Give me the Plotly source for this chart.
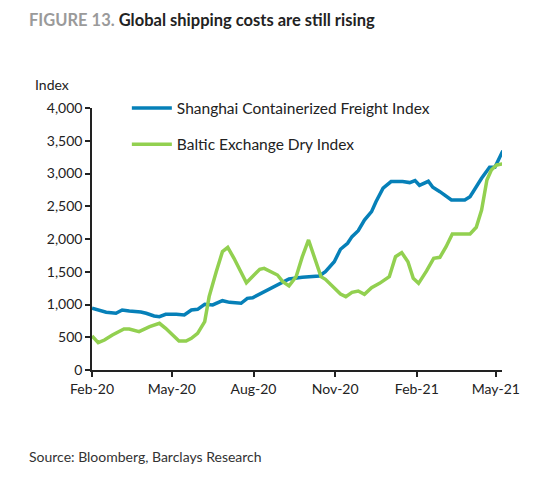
import plotly.graph_objects as go

# Shanghai Containerized Freight Index
scfi_dates = ["2020-02-01", "2020-02-17", "2020-02-28", "2020-03-06", "2020-03-14", "2020-03-27",
              "2020-04-02", "2020-04-11", "2020-04-17", "2020-04-24", "2020-05-06", "2020-05-15",
              "2020-05-23", "2020-05-30", "2020-06-07", "2020-06-16", "2020-06-27", "2020-07-05",
              "2020-07-18", "2020-07-25", "2020-07-31", "2020-08-08", "2020-08-13", "2020-08-23",
              "2020-09-01", "2020-09-10", "2020-09-25", "2020-10-14", "2020-10-21", "2020-10-31",
              "2020-11-07", "2020-11-15", "2020-11-20", "2020-11-27", "2020-12-04", "2020-12-12",
              "2020-12-17", "2020-12-25", "2021-01-03", "2021-01-16", "2021-01-24", "2021-01-30",
              "2021-02-04", "2021-02-14", "2021-02-19", "2021-02-27", "2021-03-12", "2021-03-27",
              "2021-04-02", "2021-04-09", "2021-04-15", "2021-04-24", "2021-04-30", "2021-05-09"]
scfi_values = [942, 881, 866, 916, 900, 886,
               866, 825, 814, 850, 850, 840,
               916, 926, 1003, 993, 1058, 1033,
               1018, 1094, 1104, 1160, 1180, 1257,
               1323, 1389, 1415, 1435, 1501, 1654,
               1843, 1935, 2036, 2127, 2290, 2418,
               2570, 2775, 2876, 2876, 2861, 2891,
               2820, 2881, 2790, 2723, 2596, 2596,
               2647, 2810, 2927, 3095, 3095, 3349]

# Baltic Exchange Dry Index
bdi_dates = ["2020-02-01", "2020-02-08", "2020-02-15", "2020-02-24", "2020-03-08", "2020-03-14",
             "2020-03-25", "2020-04-06", "2020-04-17", "2020-04-24", "2020-05-09", "2020-05-17",
             "2020-05-23", "2020-05-30", "2020-06-07", "2020-06-12", "2020-06-20", "2020-06-27",
             "2020-07-03", "2020-07-10", "2020-07-24", "2020-07-31", "2020-08-08", "2020-08-13",
             "2020-08-21", "2020-08-28", "2020-09-03", "2020-09-10", "2020-09-18", "2020-09-25",
             "2020-10-02", "2020-10-09", "2020-10-16", "2020-10-21", "2020-10-31", "2020-11-07",
             "2020-11-13", "2020-11-20", "2020-11-27", "2020-12-04", "2020-12-12", "2020-12-21",
             "2021-01-01", "2021-01-08", "2021-01-15", "2021-01-22", "2021-01-28", "2021-02-03",
             "2021-02-12", "2021-02-20", "2021-02-27", "2021-03-06", "2021-03-13", "2021-04-02",
             "2021-04-09", "2021-04-15", "2021-04-21", "2021-04-26", "2021-05-02", "2021-05-09"]
bdi_values = [519, 417, 458, 534, 626, 626,
              585, 662, 713, 636, 443, 443,
              484, 560, 738, 1120, 1501, 1807,
              1873, 1705, 1333, 1435, 1537, 1552,
              1501, 1450, 1349, 1283, 1425, 1730,
              1985, 1705, 1425, 1384, 1247, 1160,
              1120, 1186, 1206, 1155, 1257, 1323,
              1425, 1730, 1792, 1654, 1400, 1323,
              1512, 1705, 1720, 1883, 2077, 2077,
              2179, 2443, 2902, 3054, 3130, 3146]

x_tick_vals = ["2020-02-01", "2020-05-01", "2020-08-01", "2020-11-01", "2021-02-01", "2021-05-01"]
x_tick_text = ["Feb-20", "May-20", "Aug-20", "Nov-20", "Feb-21", "May-21"]
y_tick_vals = [0, 500, 1000, 1500, 2000, 2500, 3000, 3500, 4000]

FONT = "Source Sans Pro, Lato, Noto Sans, sans-serif"

fig = go.Figure()
fig.add_trace(go.Scatter(x=scfi_dates, y=scfi_values, mode="lines",
                         name="Shanghai Containerized Freight Index",
                         legendgroup="a",
                         line=dict(color="#0680b8", width=3.5)))
fig.add_trace(go.Scatter(x=bdi_dates, y=bdi_values, mode="lines",
                         name="Baltic Exchange Dry Index",
                         legendgroup="b",
                         line=dict(color="#92d050", width=3.5)))

fig.update_layout(
    width=535, height=485,
    margin=dict(l=92, r=33, t=108, b=115),
    paper_bgcolor="white", plot_bgcolor="white",
    font=dict(family=FONT, size=14, color="#222222"),
    showlegend=True,
    legend=dict(x=0.085, y=1.063, xanchor="left", yanchor="top",
                bgcolor="rgba(0,0,0,0)", traceorder="grouped",
                tracegroupgap=13, itemwidth=40,
                font=dict(family=FONT, size=15.5, color="#222222")),
    xaxis=dict(type="date", range=["2020-02-01", "2021-05-08"],
               tickvals=x_tick_vals, ticktext=x_tick_text,
               showgrid=False, zeroline=False,
               showline=True, linecolor="#222222", linewidth=1.5,
               ticks="outside", ticklen=5, tickcolor="#222222", tickwidth=1.5,
               tickfont=dict(family=FONT, size=14, color="#222222")),
    yaxis=dict(range=[0, 4000], tickvals=y_tick_vals, tickformat=",",
               showgrid=False, zeroline=False,
               showline=True, linecolor="#222222", linewidth=1.5,
               ticks="outside", ticklen=5, tickcolor="#222222", tickwidth=1.5,
               tickfont=dict(family=FONT, size=14, color="#222222")),
    annotations=[
        dict(text="<b><span style='color:#9a9a9a'>FIGURE 13.</span> Global shipping costs are still rising</b>",
             xref="paper", yref="paper", x=-0.159, y=1.336, xanchor="left", yanchor="middle",
             showarrow=False, font=dict(family=FONT, size=16.5, color="#222222")),
        dict(text="Index", xref="paper", yref="paper", x=-0.145, y=1.0916,
             xanchor="left", yanchor="middle", showarrow=False,
             font=dict(family=FONT, size=14, color="#222222")),
        dict(text="Source: Bloomberg, Barclays Research", xref="paper", yref="paper",
             x=-0.159, y=-0.332, xanchor="left", yanchor="middle", showarrow=False,
             font=dict(family=FONT, size=14, color="#333333")),
    ],
)

fig.write_html("out.html", config={"displayModeBar": False},
               post_script="document.body.style.margin='0';")
